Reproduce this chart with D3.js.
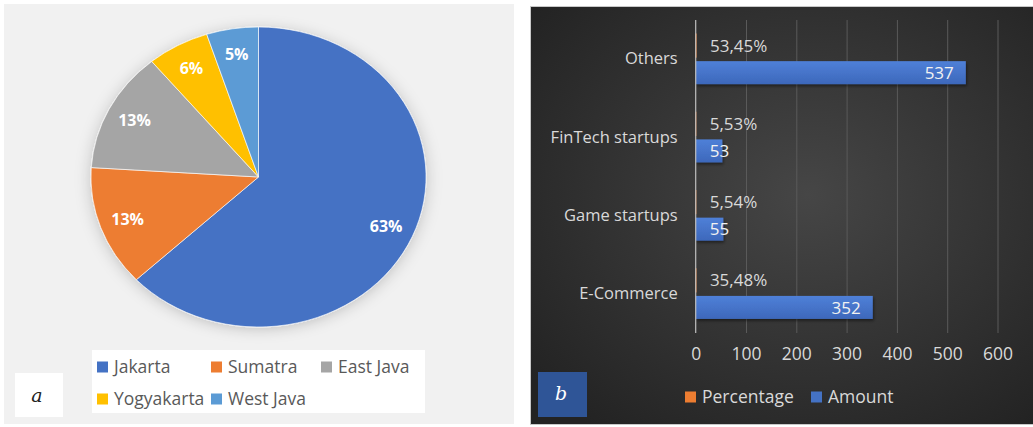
<!DOCTYPE html>
<html>
<head>
<meta charset="utf-8">
<script src="https://cdn.jsdelivr.net/npm/d3@7"></script>
<style>
  html, body { margin: 0; padding: 0; background: #ffffff; }
  svg { display: block; }
</style>
</head>
<body>
<svg id="chart" width="1033" height="427"></svg>
<script>
// ---------- DATA ----------
const regions = ["Jakarta", "Sumatra", "East Java", "Yogyakarta", "West Java"];
const regionShares = [63, 13, 13, 6, 5];
const regionColors = ["#4472c4", "#ed7d31", "#a5a5a5", "#ffc000", "#5b9bd5"];

const sectors = ["Others", "FinTech startups", "Game startups", "E-Commerce"];
const percentageValues = [0.5345, 0.0553, 0.0554, 0.3548];
const percentageLabels = ["53,45%", "5,53%", "5,54%", "35,48%"];
const amountValues = [537, 53, 55, 352];
const seriesNames = ["Percentage", "Amount"];
const seriesColors = ["#ed7d31", "#4472c4"];
const xTicks = [0, 100, 200, 300, 400, 500, 600];

// ---------- SETUP ----------
const svg = d3.select("#chart");
const defs = svg.append("defs");

const shadow = defs.append("filter").attr("id", "pieShadow")
  .attr("x", "-20%").attr("y", "-20%").attr("width", "140%").attr("height", "140%");
shadow.append("feDropShadow").attr("dx", 0).attr("dy", 2).attr("stdDeviation", 7)
  .attr("flood-color", "#000").attr("flood-opacity", 0.2);

const barShadow = defs.append("filter").attr("id", "barShadow")
  .attr("x", "-10%").attr("y", "-30%").attr("width", "120%").attr("height", "170%");
barShadow.append("feDropShadow").attr("dx", 1).attr("dy", 2).attr("stdDeviation", 1.5)
  .attr("flood-color", "#000").attr("flood-opacity", 0.45);

const bg = defs.append("radialGradient").attr("id", "darkBg")
  .attr("cx", "55%").attr("cy", "45%").attr("r", "70%");
bg.append("stop").attr("offset", "0%").attr("stop-color", "#464646");
bg.append("stop").attr("offset", "100%").attr("stop-color", "#232323");

const blueGrad = defs.append("linearGradient").attr("id", "blueBar")
  .attr("x1", 0).attr("y1", 0).attr("x2", 0).attr("y2", 1);
blueGrad.append("stop").attr("offset", "0%").attr("stop-color", "#4f80d8");
blueGrad.append("stop").attr("offset", "100%").attr("stop-color", "#3d68bb");

// ---------- PANEL A : PIE ----------
const panelA = svg.append("g");
panelA.append("rect").attr("x", 4).attr("y", 4).attr("width", 510).attr("height", 420)
  .attr("fill", "#f1f1f1");

const cx = 258.5, cy = 177, R = 150, stretchX = 1.117;
const pie = d3.pie().sort(null).value(d => d)(regionShares);
const arc = d3.arc().innerRadius(0).outerRadius(R);
const labelArc = d3.arc().innerRadius(R * 0.83).outerRadius(R * 0.83);

const pieG = panelA.append("g")
  .attr("transform", `translate(${cx},${cy}) scale(${stretchX},1)`)
  .attr("filter", "url(#pieShadow)");
pieG.selectAll("path").data(pie).join("path")
  .attr("d", arc)
  .attr("fill", (d, i) => regionColors[i])
  .attr("stroke", "#ffffff").attr("stroke-width", 0.6);

panelA.selectAll("text.pl").data(pie).join("text")
  .attr("class", "pl")
  .attr("x", d => cx + labelArc.centroid(d)[0] * stretchX)
  .attr("y", d => cy + labelArc.centroid(d)[1])
  .attr("text-anchor", "middle").attr("dy", "0.36em")
  .attr("font-family", "'Open Sans', sans-serif").attr("font-weight", "bold")
  .attr("font-size", 16).attr("fill", "#ffffff")
  .text(d => d.data + "%");

// legend a
panelA.append("rect").attr("x", 92).attr("y", 350).attr("width", 333).attr("height", 63)
  .attr("fill", "#ffffff");
const legPosA = [[97, 367], [211, 367], [321, 367], [97, 399], [211, 399]];
const legA = panelA.selectAll("g.la").data(regions).join("g").attr("class", "la")
  .attr("transform", (d, i) => `translate(${legPosA[i][0]},${legPosA[i][1]})`);
legA.append("rect").attr("x", 0).attr("y", -5.5).attr("width", 11).attr("height", 11)
  .attr("fill", (d, i) => regionColors[i]);
legA.append("text").attr("x", 17).attr("dy", "0.36em")
  .attr("font-family", "'Open Sans', sans-serif").attr("font-size", 17.5)
  .attr("fill", "#595959").text(d => d);

panelA.append("rect").attr("x", 15).attr("y", 373).attr("width", 48).attr("height", 44)
  .attr("fill", "#ffffff");
panelA.append("text").attr("x", 37).attr("y", 395).attr("dy", "0.36em")
  .attr("text-anchor", "middle").attr("font-family", "'DejaVu Serif', serif")
  .attr("font-style", "italic").attr("font-size", 19).attr("fill", "#222")
  .text("a");

// ---------- PANEL B : BARS ----------
const panelB = svg.append("g");
panelB.append("rect").attr("x", 530.5).attr("y", 6.5).attr("width", 505).attr("height", 418)
  .attr("fill", "url(#darkBg)").attr("stroke", "#c8c8c8").attr("stroke-width", 1);

const x = d3.scaleLinear().domain([0, 600]).range([695.7, 997.5]);
const y = d3.scaleBand().domain(sectors).range([20, 333]).paddingInner(0.36).paddingOuter(0.18);
const ys = d3.scaleBand().domain(seriesNames).range([0, y.bandwidth()]).paddingInner(0.15);

// gridlines via axis
const grid = panelB.append("g").attr("transform", "translate(0,333)")
  .call(d3.axisBottom(x).tickValues(xTicks.slice(1)).tickSize(-313).tickFormat(""));
grid.select(".domain").remove();
grid.selectAll(".tick line").attr("stroke", "#5a5a5a").attr("stroke-width", 1);

// tick labels
const xAxis = panelB.append("g").attr("transform", "translate(0,333)")
  .call(d3.axisBottom(x).tickValues(xTicks).tickSize(0).tickPadding(15));
xAxis.select(".domain").remove();
xAxis.selectAll("text").attr("font-family", "'Open Sans', sans-serif")
  .attr("font-size", 17.5).attr("fill", "#d9d9d9");

// category labels
const yAxis = panelB.append("g").attr("transform", `translate(${x(0)},0)`)
  .call(d3.axisLeft(y).tickSize(0).tickPadding(18));
yAxis.select(".domain").remove();
yAxis.selectAll("text").attr("font-family", "'Open Sans', sans-serif")
  .attr("font-size", 16.5).attr("fill", "#d9d9d9");

// bars
const groups = panelB.selectAll("g.cat").data(sectors).join("g").attr("class", "cat")
  .attr("transform", d => `translate(0,${y(d)})`);

groups.append("rect")
  .attr("x", x(0))
  .attr("y", ys("Percentage"))
  .attr("width", (d, i) => x(percentageValues[i]) - x(0))
  .attr("height", ys.bandwidth())
  .attr("fill", seriesColors[0]).attr("stroke", seriesColors[0]).attr("stroke-width", 1.2);

groups.append("rect")
  .attr("x", x(0))
  .attr("y", ys("Amount"))
  .attr("width", (d, i) => x(amountValues[i]) - x(0))
  .attr("height", ys.bandwidth())
  .attr("fill", "url(#blueBar)").attr("filter", "url(#barShadow)");

// axis line at zero
panelB.append("line").attr("x1", x(0)).attr("x2", x(0)).attr("y1", 20).attr("y2", 333)
  .attr("stroke", "#bfbfbf").attr("stroke-width", 1.2);

// percentage labels
groups.append("text")
  .attr("x", (d, i) => x(percentageValues[i]) + 14)
  .attr("y", ys("Percentage") + ys.bandwidth() / 2).attr("dy", "0.36em")
  .attr("font-family", "'Open Sans', sans-serif").attr("font-size", 17)
  .attr("fill", "#d9d9d9")
  .text((d, i) => percentageLabels[i]);

// amount labels
groups.append("text")
  .attr("class", "amt")
  .attr("y", ys("Amount") + ys.bandwidth() / 2).attr("dy", "0.36em")
  .attr("text-anchor", "end")
  .attr("font-family", "'Open Sans', sans-serif").attr("font-size", 17)
  .attr("fill", "#f2f2f2")
  .text((d, i) => amountValues[i])
  .each(function (d, i) {
    const w = this.getComputedTextLength();
    const inside = x(amountValues[i]) - 12;
    d3.select(this).attr("x", Math.max(inside, x(0) + 14 + w));
  });

// legend b
const legPosB = [685, 811];
const legB = panelB.selectAll("g.lb").data(seriesNames).join("g").attr("class", "lb")
  .attr("transform", (d, i) => `translate(${legPosB[i]},397)`);
legB.append("rect").attr("x", 0).attr("y", -5.5).attr("width", 11).attr("height", 11)
  .attr("fill", (d, i) => seriesColors[i]);
legB.append("text").attr("x", 17).attr("dy", "0.36em")
  .attr("font-family", "'Open Sans', sans-serif").attr("font-size", 17.5)
  .attr("fill", "#d9d9d9").text(d => d);

panelB.append("rect").attr("x", 538).attr("y", 372).attr("width", 49).attr("height", 45)
  .attr("fill", "#2f5597");
panelB.append("text").attr("x", 561).attr("y", 393).attr("dy", "0.36em")
  .attr("text-anchor", "middle").attr("font-family", "'DejaVu Serif', serif")
  .attr("font-style", "italic").attr("font-size", 19).attr("fill", "#ffffff")
  .text("b");
</script>
</body>
</html>
